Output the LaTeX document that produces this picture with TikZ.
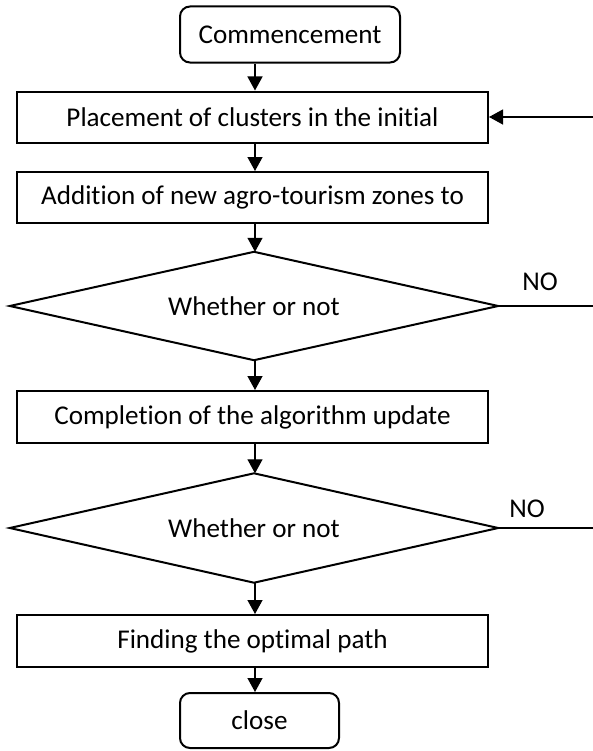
\documentclass[tikz,border=0pt]{standalone}
\usepackage{fontspec}
\setmainfont[Ligatures={NoCommon}]{Carlito}
\usetikzlibrary{arrows.meta}
\begin{document}
\begin{tikzpicture}[x=1bp,y=-1bp,
  txt/.style={font=\fontsize{27.2}{30}\selectfont, inner sep=0pt},
  box/.style={txt, draw, line width=2bp, minimum width=471bp, minimum height=51bp},
  rbox/.style={txt, draw, line width=2bp, rounded corners=10bp},
  dia/.style={txt, minimum width=488bp, minimum height=108bp},
  diaedge/.style={line width=2bp, line join=miter},
  arr/.style={line width=1.3bp, -{Triangle[length=14bp,width=15bp]}},
  ln/.style={line width=1.3bp}]
\useasboundingbox (0,0) rectangle (593,751);
\node[rbox, minimum width=220bp, minimum height=56bp] (c) at (290,34.5) {Commencement};
\node[box] (p) at (252.5,117) {Placement of clusters in the initial};
\node[box] (a) at (252.5,197.5) {Addition of new agro-tourism zones to};
\node[dia] (d1) at (254,306) {Whether or not};
\node[box, minimum height=52bp] (k) at (252.5,417) {Completion of the algorithm update};
\node[dia, minimum height=109bp] (d2) at (254,528) {Whether or not};
\node[box, minimum height=52bp] (f) at (252.5,641) {Finding the optimal path};
\node[rbox, minimum width=159bp, minimum height=55bp] (e) at (259.5,720.5) {close};
\draw[diaedge] (d1.north) -- (d1.east) -- (d1.south) -- (d1.west) -- cycle;
\draw[diaedge] (d2.north) -- (d2.east) -- (d2.south) -- (d2.west) -- cycle;
\coordinate (ax) at (255,0);
\draw[arr] (ax |- c.south) -- (ax |- p.north);
\draw[arr] (ax |- p.south) -- (ax |- a.north);
\draw[arr] (ax |- a.south) -- (ax |- d1.north);
\draw[arr] (ax |- d1.south) -- (ax |- k.north);
\draw[arr] (ax |- k.south) -- (ax |- d2.north);
\draw[arr] (ax |- d2.south) -- (ax |- f.north);
\draw[arr] (ax |- f.south) -- (ax |- e.north);
\coordinate (in) at (593,117);
\draw[arr] (in) -- (p.east);
\coordinate (r1) at (593,306);
\coordinate (r2) at (593,528);
\draw[ln] (d1.east) -- (r1);
\draw[ln] (d2.east) -- (r2);
\node[txt] (no1) at (540,282) {NO};
\node[txt] (no2) at (527,509) {NO};
\end{tikzpicture}
\end{document}
